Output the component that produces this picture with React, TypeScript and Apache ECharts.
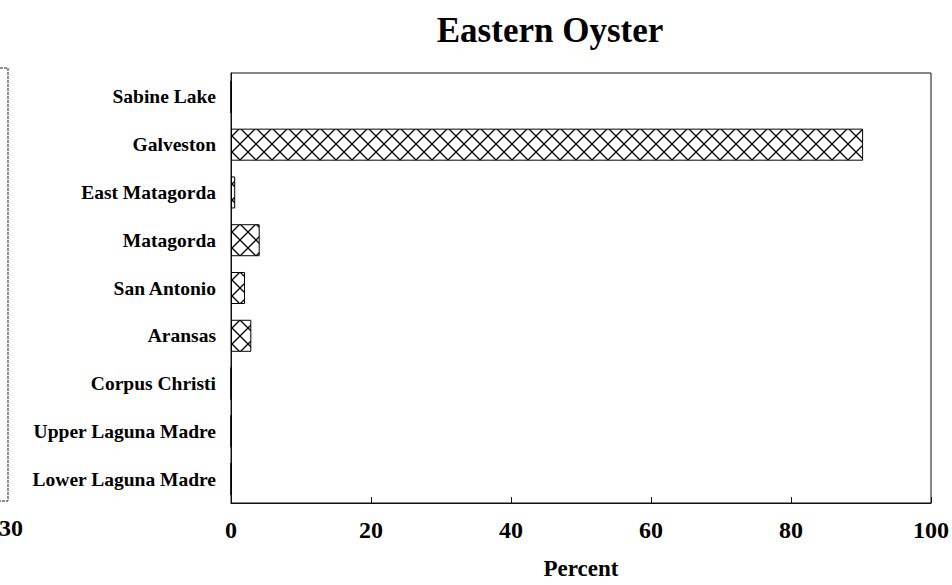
import React, { useEffect, useRef } from "react";
import * as echarts from "echarts";

const TITLE = "Eastern Oyster";
const categories = [
  "Sabine Lake",
  "Galveston",
  "East Matagorda",
  "Matagorda",
  "San Antonio",
  "Aransas",
  "Corpus Christi",
  "Upper Laguna Madre",
  "Lower Laguna Madre",
];
const percentValues = [0, 90.3, 0.6, 4.1, 2.0, 2.9, 0, 0, 0];
const xTicks = { min: 0, max: 100, interval: 20 };
const axisName = "Percent";
const neighbourTick = "30";

const FONT = '"Liberation Serif", "Times New Roman", serif';

const hatchSvg =
  "data:image/svg+xml;charset=utf-8," +
  encodeURIComponent(
    "<svg xmlns='http://www.w3.org/2000/svg' width='16' height='16'>" +
      "<rect width='16' height='16' fill='white'/>" +
      "<path d='M0 0L16 16M16 0L0 16' stroke='black' stroke-width='1.3' fill='none'/>" +
      "</svg>"
  );

export default function App() {
  const ref = useRef<HTMLDivElement>(null);

  useEffect(() => {
    if (!ref.current) return;
    const chart = echarts.init(ref.current, null, { renderer: "svg" });
    chart.setOption({
      animation: false,
      backgroundColor: "#ffffff",
      grid: {
        left: 231,
        right: 21,
        top: 73,
        bottom: 81,
        show: true,
        borderColor: "#111",
        borderWidth: 1,
        backgroundColor: "transparent",
      },
      xAxis: {
        type: "value",
        min: xTicks.min,
        max: xTicks.max,
        interval: xTicks.interval,
        name: axisName,
        nameLocation: "middle",
        nameGap: 54,
        nameTextStyle: {
          fontFamily: FONT,
          fontWeight: "bold",
          fontSize: 23,
          color: "#000",
        },
        axisLine: { show: true, lineStyle: { color: "#111", width: 1 } },
        axisTick: { show: true, inside: true, length: 6, lineStyle: { color: "#111" } },
        splitLine: { show: false },
        axisLabel: {
          fontFamily: FONT,
          fontWeight: "bold",
          fontSize: 24,
          color: "#000",
          margin: 15,
        },
      },
      yAxis: {
        type: "category",
        data: categories,
        inverse: true,
        axisLine: { show: true, lineStyle: { color: "#111", width: 1 } },
        axisTick: { show: false },
        splitLine: { show: false },
        axisLabel: {
          fontFamily: FONT,
          fontWeight: "bold",
          fontSize: 19.5,
          color: "#000",
          margin: 15,
        },
      },
      series: [
        {
          type: "bar",
          data: percentValues,
          barCategoryGap: "33%",
          itemStyle: {
            color: { image: hatchSvg, repeat: "repeat", imageWidth: 16, imageHeight: 16 } as any,
            borderColor: "#000",
            borderWidth: 1,
          },
          silent: true,
        },
      ],
      graphic: [
        {
          type: "text",
          x: 550,
          y: 30,
          style: {
            text: TITLE,
            fontFamily: FONT,
            fontWeight: "bold",
            fontSize: 35,
            fill: "#000",
            textAlign: "center",
            textVerticalAlign: "middle",
          },
        },
        {
          type: "polyline",
          shape: { points: [[0, 68], [8, 68], [8, 501], [0, 501]] },
          style: { stroke: "#222", lineWidth: 1, fill: "none", lineDash: [3, 1] },
        },
        {
          type: "text",
          x: 11,
          y: 528,
          style: {
            text: neighbourTick,
            fontFamily: FONT,
            fontWeight: "bold",
            fontSize: 24,
            fill: "#000",
            textAlign: "center",
            textVerticalAlign: "middle",
          },
        },
      ],
    });
    return () => chart.dispose();
  }, []);

  return <div ref={ref} style={{ width: 952, height: 585, position: "absolute", left: 0, top: 0 }} />;
}
